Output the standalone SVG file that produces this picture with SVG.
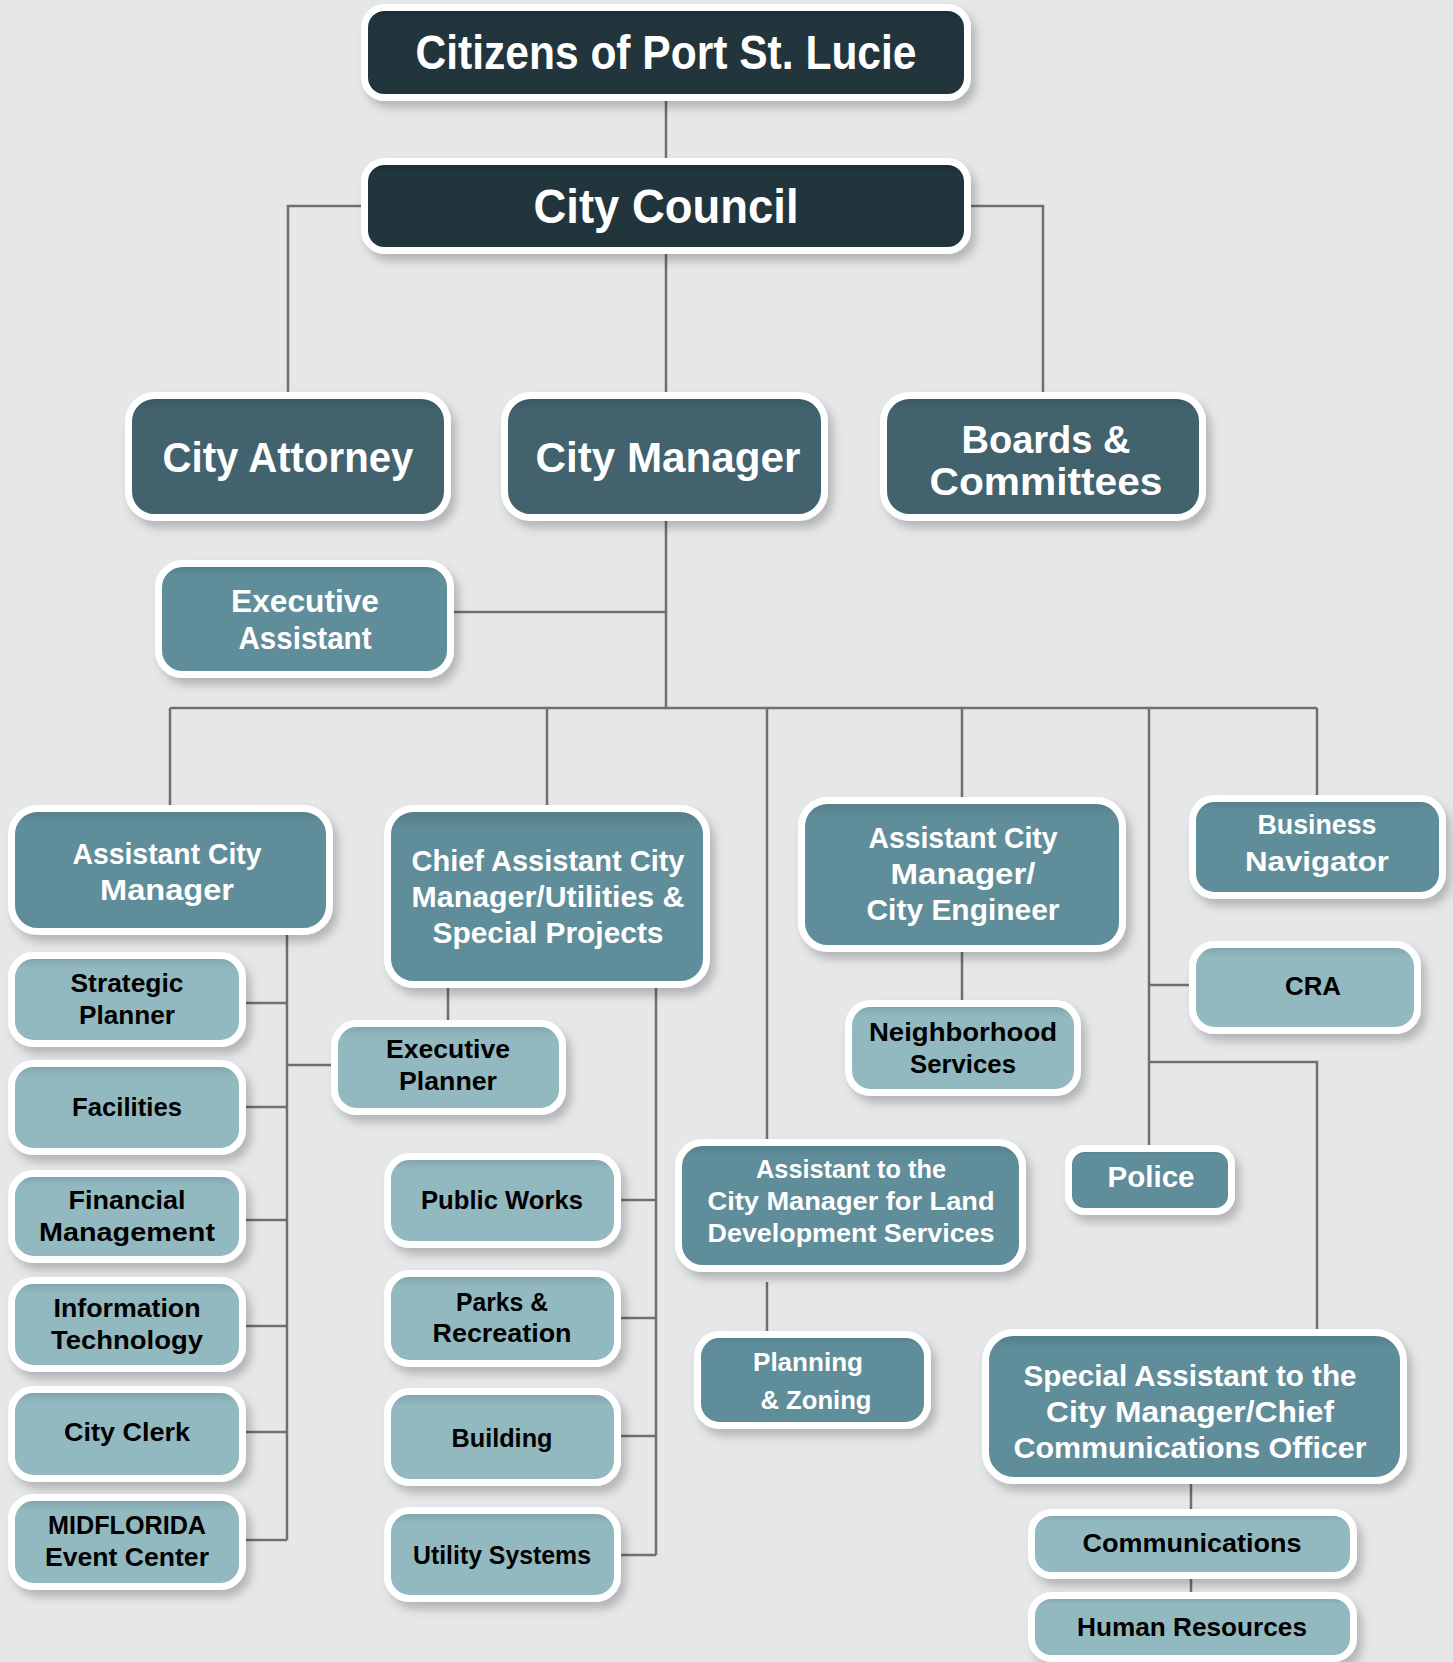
<svg xmlns="http://www.w3.org/2000/svg" width="1453" height="1662" viewBox="0 0 1453 1662">
<defs>
<linearGradient id="gDark" x1="0" y1="0" x2="0" y2="1"><stop offset="0" stop-color="#1b2a31"/><stop offset="0.15" stop-color="#23363e"/><stop offset="1" stop-color="#23363e"/></linearGradient>
<linearGradient id="gL2" x1="0" y1="0" x2="0" y2="1"><stop offset="0" stop-color="#375560"/><stop offset="0.12" stop-color="#42626d"/><stop offset="1" stop-color="#42626d"/></linearGradient>
<linearGradient id="gMid" x1="0" y1="0" x2="0" y2="1"><stop offset="0" stop-color="#527c87"/><stop offset="0.12" stop-color="#5f8e9a"/><stop offset="1" stop-color="#5f8e9a"/></linearGradient>
<linearGradient id="gLight" x1="0" y1="0" x2="0" y2="1"><stop offset="0" stop-color="#7d9fa6"/><stop offset="0.15" stop-color="#93b9c0"/><stop offset="1" stop-color="#93b9c0"/></linearGradient>
<filter id="sh" x="-10%" y="-10%" width="125%" height="135%"><feDropShadow dx="5" dy="7" stdDeviation="5" flood-color="#000" flood-opacity="0.22"/></filter>
</defs>
<style>
.box{stroke:#ffffff;stroke-width:7;filter:url(#sh)}
.dark{fill:url(#gDark)}
.l2{fill:url(#gL2)}
.mid{fill:url(#gMid)}
.light{fill:url(#gLight)}
text{font-family:"Liberation Sans",Arial,sans-serif;font-weight:bold;text-anchor:middle}
.w{fill:#ffffff}
.k{fill:#000000}
.conn path{fill:none;stroke:#6e6f71;stroke-width:2.5}
</style>
<rect width="1453" height="1662" fill="#e6e7e9"/>
<g class="conn">
<path d="M666 101V158"/>
<path d="M361 206H288V392"/>
<path d="M971 206H1043V392"/>
<path d="M666 254V392"/>
<path d="M666 521V708"/>
<path d="M454 612H666"/>
<path d="M170 708H1317"/>
<path d="M170 708V805"/>
<path d="M547 708V805"/>
<path d="M767 708V1139"/>
<path d="M962 708V797"/>
<path d="M1149 708V1145"/>
<path d="M1317 708V795"/>
<path d="M1149 985H1189"/>
<path d="M1149 1062H1317V1329"/>
<path d="M962 952V1000"/>
<path d="M767 1282V1331"/>
<path d="M1191 1484V1509"/>
<path d="M1191 1579V1592"/>
<path d="M287 935V1540"/>
<path d="M246 1003H287M246 1107H287M246 1220H287M246 1326H287M246 1432H287M246 1540H287"/>
<path d="M287 1065H331"/>
<path d="M448 988V1020"/>
<path d="M656 988V1555"/>
<path d="M621 1200H656M621 1318H656M621 1436H656M621 1555H656"/>
</g>
<g id="citizens"><rect class="box dark" x="364.5" y="7.5" width="603" height="90" rx="20"/><text class="w" x="666" y="69" font-size="49" textLength="501" lengthAdjust="spacingAndGlyphs">Citizens of Port St. Lucie</text></g>
<g id="council"><rect class="box dark" x="364.5" y="161.5" width="603" height="89" rx="20"/><text class="w" x="666" y="223" font-size="49" textLength="265" lengthAdjust="spacingAndGlyphs">City Council</text></g>
<g id="attorney"><rect class="box l2" x="128.5" y="395.5" width="319" height="122" rx="26"/><text class="w" x="288" y="472" font-size="42" textLength="251" lengthAdjust="spacingAndGlyphs">City Attorney</text></g>
<g id="manager"><rect class="box l2" x="504.5" y="395.5" width="320" height="122" rx="26"/><text class="w" x="668" y="472" font-size="42" textLength="265" lengthAdjust="spacingAndGlyphs">City Manager</text></g>
<g id="boards"><rect class="box l2" x="883.5" y="395.5" width="319" height="122" rx="26"/><text class="w" x="1046" y="453" font-size="38" textLength="169" lengthAdjust="spacingAndGlyphs">Boards &amp;</text><text class="w" x="1046" y="495" font-size="38" textLength="233" lengthAdjust="spacingAndGlyphs">Committees</text></g>
<g id="exec-assistant"><rect class="box mid" x="158.5" y="563.5" width="292" height="111" rx="24"/><text class="w" x="305" y="612" font-size="31" textLength="148" lengthAdjust="spacingAndGlyphs">Executive</text><text class="w" x="305" y="649" font-size="31" textLength="133" lengthAdjust="spacingAndGlyphs">Assistant</text></g>
<g id="acm"><rect class="box mid" x="11.5" y="808.5" width="318" height="123" rx="26"/><text class="w" x="167" y="864" font-size="30" textLength="189" lengthAdjust="spacingAndGlyphs">Assistant City</text><text class="w" x="167" y="900" font-size="30" textLength="134" lengthAdjust="spacingAndGlyphs">Manager</text></g>
<g id="chief-acm"><rect class="box mid" x="387.5" y="808.5" width="319" height="176" rx="26"/><text class="w" x="548" y="871" font-size="30" textLength="273" lengthAdjust="spacingAndGlyphs">Chief Assistant City</text><text class="w" x="548" y="907" font-size="30" textLength="273" lengthAdjust="spacingAndGlyphs">Manager/Utilities &amp;</text><text class="w" x="548" y="943" font-size="30" textLength="231" lengthAdjust="spacingAndGlyphs">Special Projects</text></g>
<g id="acm-engineer"><rect class="box mid" x="801.5" y="800.5" width="321" height="148" rx="26"/><text class="w" x="963" y="848" font-size="30" textLength="189" lengthAdjust="spacingAndGlyphs">Assistant City</text><text class="w" x="963" y="884" font-size="30" textLength="145" lengthAdjust="spacingAndGlyphs">Manager/</text><text class="w" x="963" y="920" font-size="30" textLength="193" lengthAdjust="spacingAndGlyphs">City Engineer</text></g>
<g id="business-navigator"><rect class="box mid" x="1192.5" y="798.5" width="250" height="97" rx="22"/><text class="w" x="1317" y="834" font-size="28" textLength="119" lengthAdjust="spacingAndGlyphs">Business</text><text class="w" x="1317" y="871" font-size="28" textLength="144" lengthAdjust="spacingAndGlyphs">Navigator</text></g>
<g id="cra"><rect class="box light" x="1192.5" y="944.5" width="225" height="86" rx="22"/><text class="k" x="1313" y="995" font-size="26" textLength="56" lengthAdjust="spacingAndGlyphs">CRA</text></g>
<g id="neighborhood"><rect class="box light" x="848.5" y="1003.5" width="229" height="89" rx="22"/><text class="k" x="963" y="1041" font-size="26" textLength="188" lengthAdjust="spacingAndGlyphs">Neighborhood</text><text class="k" x="963" y="1073" font-size="26" textLength="106" lengthAdjust="spacingAndGlyphs">Services</text></g>
<g id="police"><rect class="box mid" x="1068.5" y="1148.5" width="163" height="63" rx="16"/><text class="w" x="1151" y="1187" font-size="29" textLength="87" lengthAdjust="spacingAndGlyphs">Police</text></g>
<g id="land-dev"><rect class="box mid" x="678.5" y="1142.5" width="344" height="126" rx="24"/><text class="w" x="851" y="1178" font-size="26" textLength="190" lengthAdjust="spacingAndGlyphs">Assistant to the</text><text class="w" x="851" y="1210" font-size="26" textLength="287" lengthAdjust="spacingAndGlyphs">City Manager for Land</text><text class="w" x="851" y="1242" font-size="26" textLength="287" lengthAdjust="spacingAndGlyphs">Development Services</text></g>
<g id="planning"><rect class="box mid" x="697.5" y="1334.5" width="230" height="91" rx="22"/><text class="w" x="808" y="1371" font-size="26" textLength="110" lengthAdjust="spacingAndGlyphs">Planning</text><text class="w" x="816" y="1409" font-size="26" textLength="111" lengthAdjust="spacingAndGlyphs">&amp; Zoning</text></g>
<g id="special-assistant"><rect class="box mid" x="985.5" y="1332.5" width="418" height="148" rx="28"/><text class="w" x="1190" y="1386" font-size="30" textLength="333" lengthAdjust="spacingAndGlyphs">Special Assistant to the</text><text class="w" x="1190" y="1422" font-size="30" textLength="288" lengthAdjust="spacingAndGlyphs">City Manager/Chief</text><text class="w" x="1190" y="1458" font-size="30" textLength="353" lengthAdjust="spacingAndGlyphs">Communications Officer</text></g>
<g id="communications"><rect class="box light" x="1031.5" y="1512.5" width="322" height="63" rx="20"/><text class="k" x="1192" y="1552" font-size="26" textLength="219" lengthAdjust="spacingAndGlyphs">Communications</text></g>
<g id="human-resources"><rect class="box light" x="1031.5" y="1595.5" width="322" height="63" rx="20"/><text class="k" x="1192" y="1636" font-size="26" textLength="230" lengthAdjust="spacingAndGlyphs">Human Resources</text></g>
<g id="strategic-planner"><rect class="box light" x="11.5" y="955.5" width="231" height="88" rx="22"/><text class="k" x="127" y="992" font-size="25" textLength="113" lengthAdjust="spacingAndGlyphs">Strategic</text><text class="k" x="127" y="1024" font-size="25" textLength="96" lengthAdjust="spacingAndGlyphs">Planner</text></g>
<g id="facilities"><rect class="box light" x="11.5" y="1063.5" width="231" height="88" rx="22"/><text class="k" x="127" y="1116" font-size="25" textLength="110" lengthAdjust="spacingAndGlyphs">Facilities</text></g>
<g id="financial"><rect class="box light" x="11.5" y="1173.5" width="231" height="86" rx="22"/><text class="k" x="127" y="1209" font-size="25" textLength="117" lengthAdjust="spacingAndGlyphs">Financial</text><text class="k" x="127" y="1241" font-size="25" textLength="176" lengthAdjust="spacingAndGlyphs">Management</text></g>
<g id="info-tech"><rect class="box light" x="11.5" y="1280.5" width="231" height="88" rx="22"/><text class="k" x="127" y="1317" font-size="25" textLength="147" lengthAdjust="spacingAndGlyphs">Information</text><text class="k" x="127" y="1349" font-size="25" textLength="152" lengthAdjust="spacingAndGlyphs">Technology</text></g>
<g id="city-clerk"><rect class="box light" x="11.5" y="1389.5" width="231" height="89" rx="22"/><text class="k" x="127" y="1441" font-size="25" textLength="126" lengthAdjust="spacingAndGlyphs">City Clerk</text></g>
<g id="midflorida"><rect class="box light" x="11.5" y="1497.5" width="231" height="89" rx="22"/><text class="k" x="127" y="1534" font-size="25" textLength="158" lengthAdjust="spacingAndGlyphs">MIDFLORIDA</text><text class="k" x="127" y="1566" font-size="25" textLength="164" lengthAdjust="spacingAndGlyphs">Event Center</text></g>
<g id="exec-planner"><rect class="box light" x="334.5" y="1023.5" width="228" height="88" rx="22"/><text class="k" x="448" y="1058" font-size="25" textLength="124" lengthAdjust="spacingAndGlyphs">Executive</text><text class="k" x="448" y="1090" font-size="25" textLength="98" lengthAdjust="spacingAndGlyphs">Planner</text></g>
<g id="public-works"><rect class="box light" x="387.5" y="1156.5" width="230" height="88" rx="22"/><text class="k" x="502" y="1209" font-size="25" textLength="162" lengthAdjust="spacingAndGlyphs">Public Works</text></g>
<g id="parks"><rect class="box light" x="387.5" y="1273.5" width="230" height="90" rx="22"/><text class="k" x="502" y="1311" font-size="25" textLength="92" lengthAdjust="spacingAndGlyphs">Parks &amp;</text><text class="k" x="502" y="1342" font-size="25" textLength="139" lengthAdjust="spacingAndGlyphs">Recreation</text></g>
<g id="building"><rect class="box light" x="387.5" y="1391.5" width="230" height="91" rx="22"/><text class="k" x="502" y="1447" font-size="25" textLength="101" lengthAdjust="spacingAndGlyphs">Building</text></g>
<g id="utility-systems"><rect class="box light" x="387.5" y="1510.5" width="230" height="88" rx="22"/><text class="k" x="502" y="1564" font-size="25" textLength="178" lengthAdjust="spacingAndGlyphs">Utility Systems</text></g>
</svg>
